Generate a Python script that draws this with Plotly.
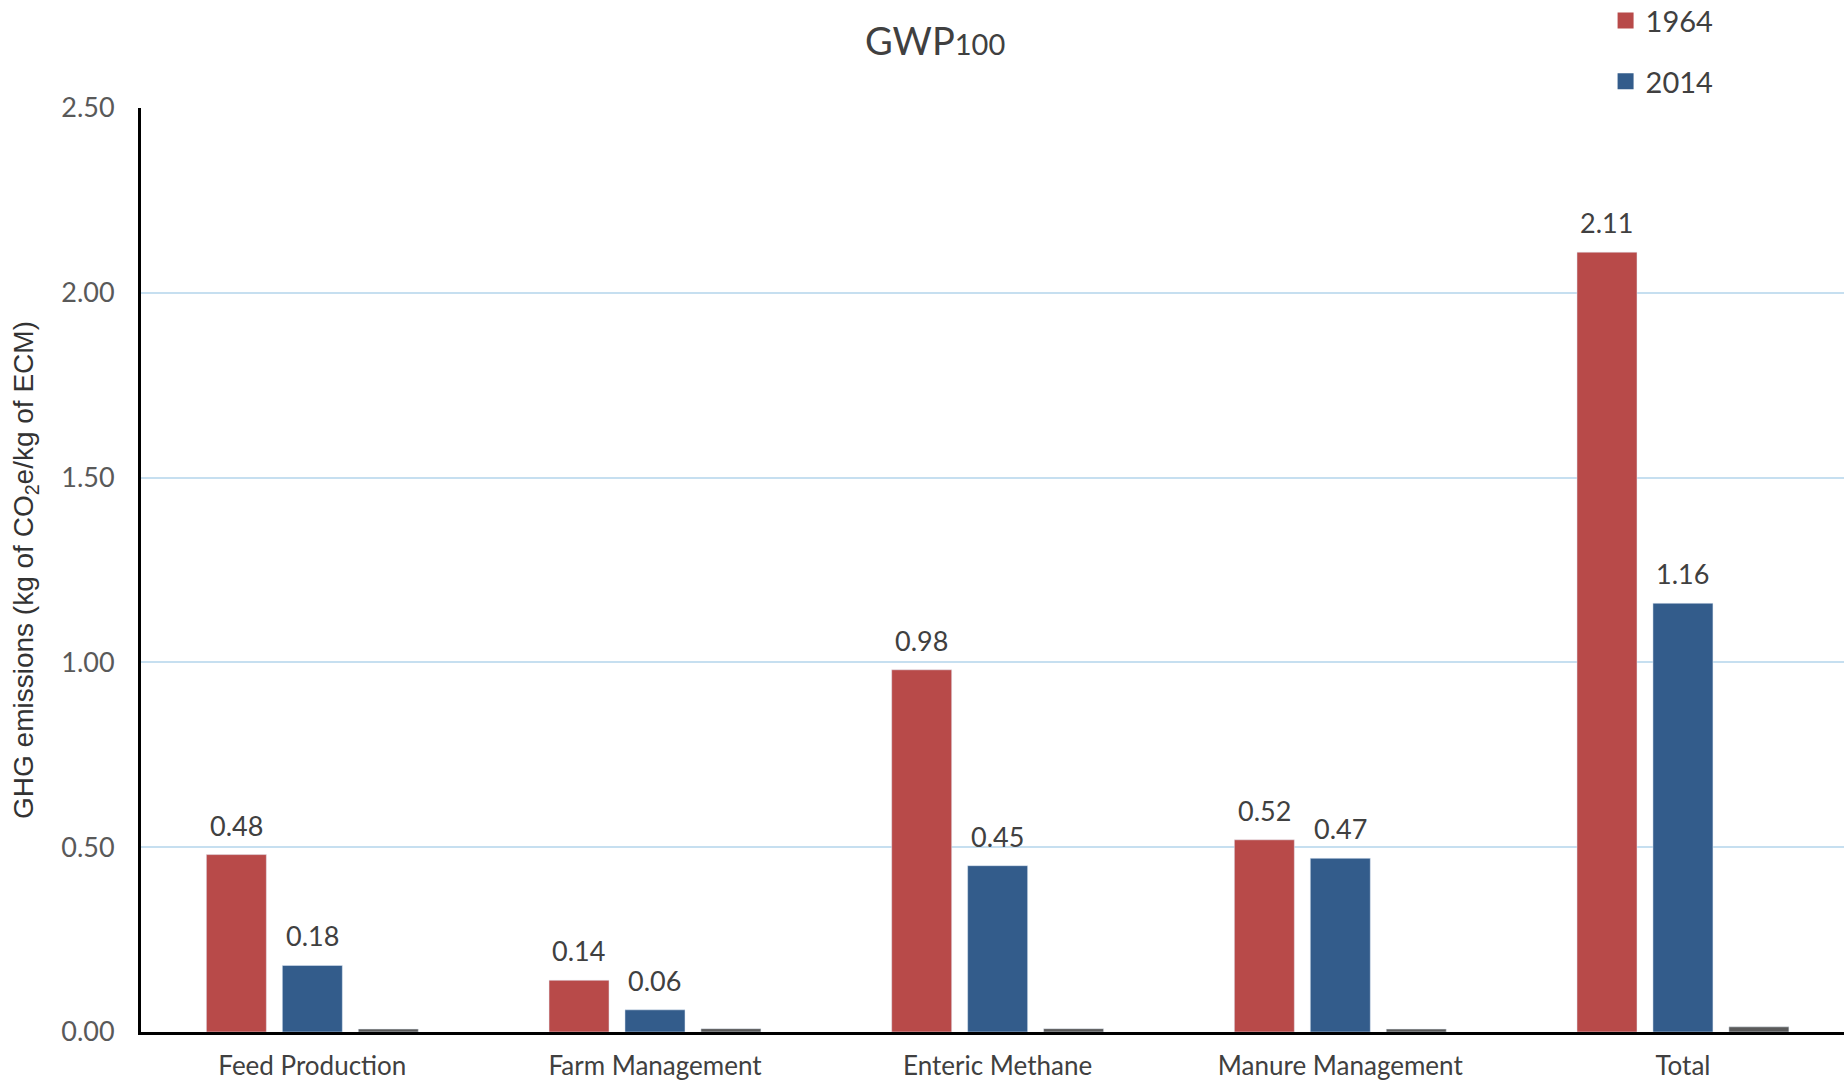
import plotly.graph_objects as go

categories = ["Feed Production", "Farm Management", "Enteric Methane", "Manure Management", "Total"]
values_1964 = [0.48, 0.14, 0.98, 0.52, 2.11]
values_2014 = [0.18, 0.06, 0.45, 0.47, 1.16]
values_other = [0.008, 0.009, 0.009, 0.008, 0.014]
labels_1964 = ["0.48", "0.14", "0.98", "0.52", "2.11"]
labels_2014 = ["0.18", "0.06", "0.45", "0.47", "1.16"]
y_ticks = [0, 0.5, 1.0, 1.5, 2.0, 2.5]
y_tick_labels = ["0.00", "0.50", "1.00", "1.50", "2.00", "2.50"]

RED = "#B84A49"
BLUE = "#335C8B"
GRAY = "#5A5A5A"
TXT = "#404040"
FONT = "Lato, 'Open Sans', sans-serif"

fig = go.Figure()
fig.add_trace(go.Bar(x=categories, y=values_1964, name="1964", marker_color=RED,
                     showlegend=False))
fig.add_trace(go.Bar(x=categories, y=values_2014, name="2014", marker_color=BLUE,
                     showlegend=False))
fig.add_trace(go.Bar(x=categories, y=values_other, name="other", marker_color=GRAY,
                     showlegend=False, hoverinfo="skip"))

# legend entries (square swatches)
fig.add_trace(go.Scatter(x=[None], y=[None], mode="markers", name="1964",
                         marker=dict(symbol="square", size=16, color=RED),
                         legendgroup="a"))
fig.add_trace(go.Scatter(x=[None], y=[None], mode="markers", name="2014",
                         marker=dict(symbol="square", size=16, color=BLUE),
                         legendgroup="b"))

# value labels above bars
annotations = []
slot_px = 76
for series, labels, shift in ((values_1964, labels_1964, -slot_px),
                              (values_2014, labels_2014, 0)):
    for cat, v, lab in zip(categories, series, labels):
        annotations.append(dict(
            x=cat, y=v, xref="x", yref="y", text=lab, showarrow=False,
            xanchor="center", yanchor="bottom", xshift=shift, yshift=11,
            font=dict(family=FONT, size=27, color=TXT),
        ))

annotations.append(dict(
    text="GWP<span style='font-size:29px'>100</span>",
    x=(935 - 141) / 1703, y=(1032 - 40) / 924,
    xref="paper", yref="paper", xanchor="center", yanchor="middle",
    showarrow=False, font=dict(family=FONT, size=38, color="#404040"),
))

fig.update_layout(
    width=1844, height=1084,
    margin=dict(l=141, r=0, t=108, b=52, autoexpand=False),
    paper_bgcolor="white", plot_bgcolor="white",
    barmode="group", bargap=0.335, bargroupgap=0.21,
    font=dict(family=FONT, color=TXT),
    legend=dict(
        x=0.860, y=1.122, xanchor="left", yanchor="top",
        font=dict(family=FONT, size=29, color="#404040"),
        tracegroupgap=20,
        bgcolor="rgba(0,0,0,0)",
    ),
    annotations=annotations,
)

fig.update_xaxes(
    range=[-0.5, 4.47],
    showline=True, linecolor="black", linewidth=3,
    showgrid=False, ticks="",
    tickfont=dict(family=FONT, size=26, color=TXT),
    ticklabelstandoff=9,
    automargin=False,
)
fig.update_yaxes(
    range=[0, 2.5],
    tickvals=y_ticks, ticktext=y_tick_labels,
    showline=True, linecolor="black", linewidth=3,
    showgrid=True, gridcolor="#C6DFF0", gridwidth=1.5,
    zeroline=False, ticks="",
    tickfont=dict(family=FONT, size=27, color="#595959"),
    ticklabelstandoff=18,
    automargin=False,
    title=dict(
        text="GHG emissions (kg of CO<sub>2</sub>e/kg of ECM)",
        font=dict(family="'Liberation Sans', Arial, sans-serif", size=28, color="#333333"),
        standoff=20,
    ),
)

fig.write_html("out.html")
